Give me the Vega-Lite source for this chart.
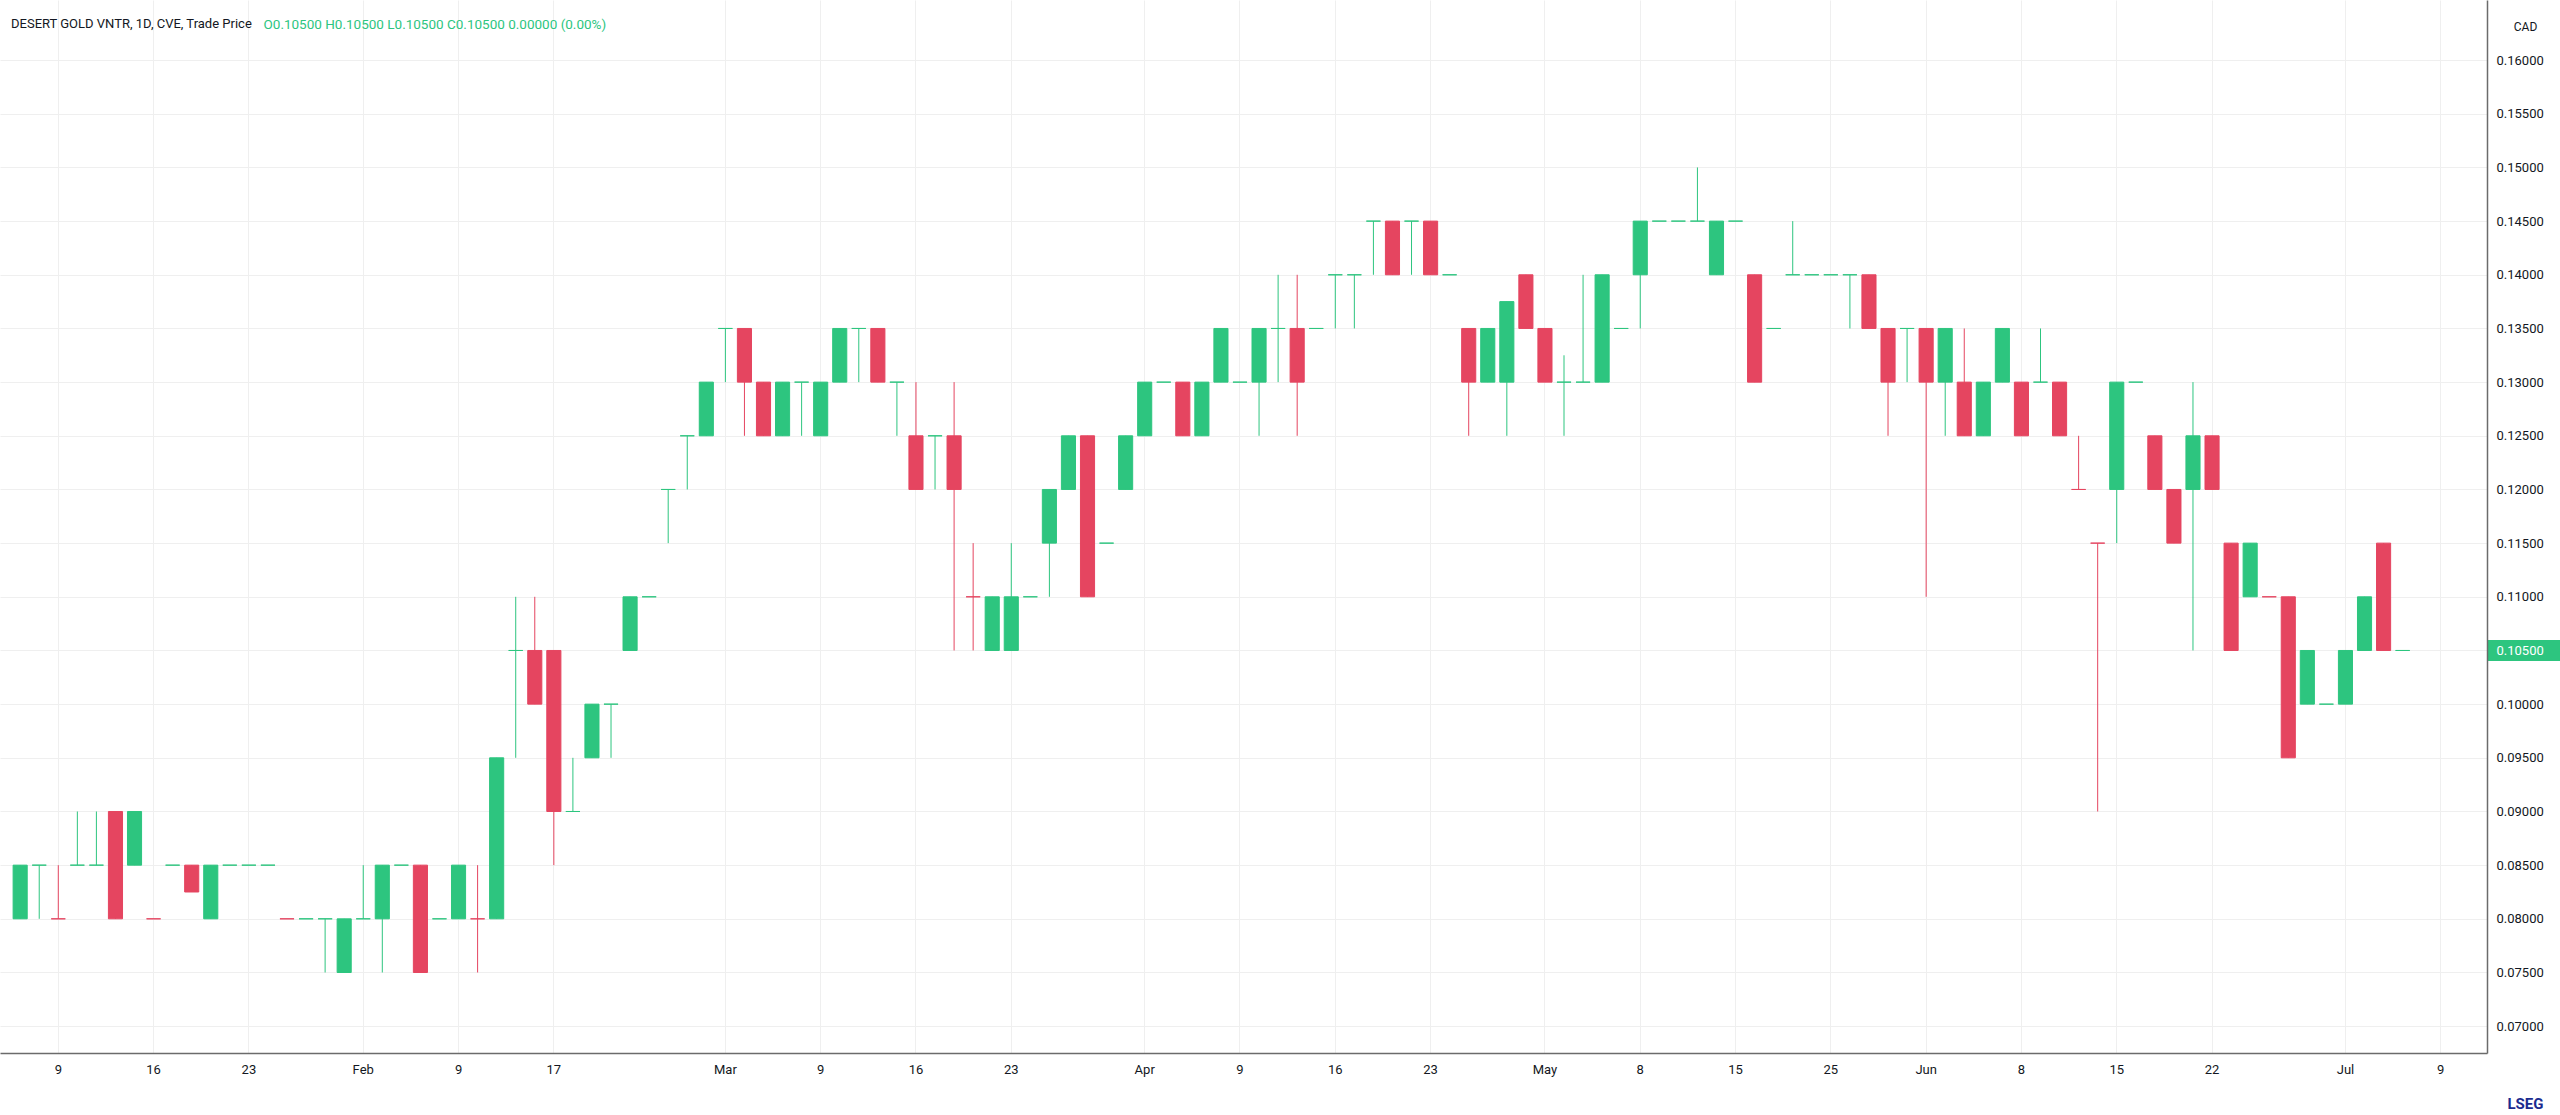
{
  "$schema": "https://vega.github.io/schema/vega-lite/v6.json",
  "description": "Desert Gold Ventures daily candles, Trade Price, CAD",
  "width": 2487,
  "height": 1053,
  "autosize": {"type": "none"},
  "padding": {"left": 0, "top": 0, "right": 73, "bottom": 62},
  "background": "#ffffff",
  "title": {
    "text": "DESERT GOLD VNTR, 1D, CVE, Trade Price",
    "anchor": "start",
    "orient": "top",
    "offset": -31,
    "dx": 11,
    "font": "Roboto",
    "fontSize": 13,
    "fontWeight": "normal",
    "color": "#131722"
  },
  "data": {
    "values": [
      {"d": "2026-01-07", "o": 0.08, "h": 0.085, "l": 0.08, "c": 0.085},
      {"d": "2026-01-08", "o": 0.085, "h": 0.085, "l": 0.08, "c": 0.085},
      {"d": "2026-01-09", "o": 0.08, "h": 0.085, "l": 0.08, "c": 0.08, "dir": "down"},
      {"d": "2026-01-12", "o": 0.085, "h": 0.09, "l": 0.085, "c": 0.085},
      {"d": "2026-01-13", "o": 0.085, "h": 0.09, "l": 0.085, "c": 0.085},
      {"d": "2026-01-14", "o": 0.09, "h": 0.09, "l": 0.08, "c": 0.08},
      {"d": "2026-01-15", "o": 0.085, "h": 0.09, "l": 0.085, "c": 0.09},
      {"d": "2026-01-16", "o": 0.08, "h": 0.08, "l": 0.08, "c": 0.08, "dir": "down"},
      {"d": "2026-01-19", "o": 0.085, "h": 0.085, "l": 0.085, "c": 0.085},
      {"d": "2026-01-20", "o": 0.085, "h": 0.085, "l": 0.0825, "c": 0.0825},
      {"d": "2026-01-21", "o": 0.08, "h": 0.085, "l": 0.08, "c": 0.085},
      {"d": "2026-01-22", "o": 0.085, "h": 0.085, "l": 0.085, "c": 0.085},
      {"d": "2026-01-23", "o": 0.085, "h": 0.085, "l": 0.085, "c": 0.085},
      {"d": "2026-01-26", "o": 0.085, "h": 0.085, "l": 0.085, "c": 0.085},
      {"d": "2026-01-27", "o": 0.08, "h": 0.08, "l": 0.08, "c": 0.08, "dir": "down"},
      {"d": "2026-01-28", "o": 0.08, "h": 0.08, "l": 0.08, "c": 0.08},
      {"d": "2026-01-29", "o": 0.08, "h": 0.08, "l": 0.075, "c": 0.08},
      {"d": "2026-01-30", "o": 0.075, "h": 0.08, "l": 0.075, "c": 0.08},
      {"d": "2026-02-02", "o": 0.08, "h": 0.085, "l": 0.08, "c": 0.08},
      {"d": "2026-02-03", "o": 0.08, "h": 0.085, "l": 0.075, "c": 0.085},
      {"d": "2026-02-04", "o": 0.085, "h": 0.085, "l": 0.085, "c": 0.085},
      {"d": "2026-02-05", "o": 0.085, "h": 0.085, "l": 0.075, "c": 0.075},
      {"d": "2026-02-06", "o": 0.08, "h": 0.08, "l": 0.08, "c": 0.08},
      {"d": "2026-02-09", "o": 0.08, "h": 0.085, "l": 0.08, "c": 0.085},
      {"d": "2026-02-10", "o": 0.08, "h": 0.085, "l": 0.075, "c": 0.08, "dir": "down"},
      {"d": "2026-02-11", "o": 0.08, "h": 0.095, "l": 0.08, "c": 0.095},
      {"d": "2026-02-12", "o": 0.105, "h": 0.11, "l": 0.095, "c": 0.105},
      {"d": "2026-02-13", "o": 0.105, "h": 0.11, "l": 0.1, "c": 0.1},
      {"d": "2026-02-17", "o": 0.105, "h": 0.105, "l": 0.085, "c": 0.09},
      {"d": "2026-02-18", "o": 0.09, "h": 0.095, "l": 0.09, "c": 0.09},
      {"d": "2026-02-19", "o": 0.095, "h": 0.1, "l": 0.095, "c": 0.1},
      {"d": "2026-02-20", "o": 0.1, "h": 0.1, "l": 0.095, "c": 0.1},
      {"d": "2026-02-23", "o": 0.105, "h": 0.11, "l": 0.105, "c": 0.11},
      {"d": "2026-02-24", "o": 0.11, "h": 0.11, "l": 0.11, "c": 0.11},
      {"d": "2026-02-25", "o": 0.12, "h": 0.12, "l": 0.115, "c": 0.12},
      {"d": "2026-02-26", "o": 0.125, "h": 0.125, "l": 0.12, "c": 0.125},
      {"d": "2026-02-27", "o": 0.125, "h": 0.13, "l": 0.125, "c": 0.13},
      {"d": "2026-03-02", "o": 0.135, "h": 0.135, "l": 0.13, "c": 0.135},
      {"d": "2026-03-03", "o": 0.135, "h": 0.135, "l": 0.125, "c": 0.13},
      {"d": "2026-03-04", "o": 0.13, "h": 0.13, "l": 0.125, "c": 0.125},
      {"d": "2026-03-05", "o": 0.125, "h": 0.13, "l": 0.125, "c": 0.13},
      {"d": "2026-03-06", "o": 0.13, "h": 0.13, "l": 0.125, "c": 0.13},
      {"d": "2026-03-09", "o": 0.125, "h": 0.13, "l": 0.125, "c": 0.13},
      {"d": "2026-03-10", "o": 0.13, "h": 0.135, "l": 0.13, "c": 0.135},
      {"d": "2026-03-11", "o": 0.135, "h": 0.135, "l": 0.13, "c": 0.135},
      {"d": "2026-03-12", "o": 0.135, "h": 0.135, "l": 0.13, "c": 0.13},
      {"d": "2026-03-13", "o": 0.13, "h": 0.13, "l": 0.125, "c": 0.13},
      {"d": "2026-03-16", "o": 0.125, "h": 0.13, "l": 0.12, "c": 0.12},
      {"d": "2026-03-17", "o": 0.125, "h": 0.125, "l": 0.12, "c": 0.125},
      {"d": "2026-03-18", "o": 0.125, "h": 0.13, "l": 0.105, "c": 0.12},
      {"d": "2026-03-19", "o": 0.11, "h": 0.115, "l": 0.105, "c": 0.11, "dir": "down"},
      {"d": "2026-03-20", "o": 0.105, "h": 0.11, "l": 0.105, "c": 0.11},
      {"d": "2026-03-23", "o": 0.105, "h": 0.115, "l": 0.105, "c": 0.11},
      {"d": "2026-03-24", "o": 0.11, "h": 0.11, "l": 0.11, "c": 0.11},
      {"d": "2026-03-25", "o": 0.115, "h": 0.12, "l": 0.11, "c": 0.12},
      {"d": "2026-03-26", "o": 0.12, "h": 0.125, "l": 0.12, "c": 0.125},
      {"d": "2026-03-27", "o": 0.125, "h": 0.125, "l": 0.11, "c": 0.11},
      {"d": "2026-03-30", "o": 0.115, "h": 0.115, "l": 0.115, "c": 0.115},
      {"d": "2026-03-31", "o": 0.12, "h": 0.125, "l": 0.12, "c": 0.125},
      {"d": "2026-04-01", "o": 0.125, "h": 0.13, "l": 0.125, "c": 0.13},
      {"d": "2026-04-02", "o": 0.13, "h": 0.13, "l": 0.13, "c": 0.13},
      {"d": "2026-04-06", "o": 0.13, "h": 0.13, "l": 0.125, "c": 0.125},
      {"d": "2026-04-07", "o": 0.125, "h": 0.13, "l": 0.125, "c": 0.13},
      {"d": "2026-04-08", "o": 0.13, "h": 0.135, "l": 0.13, "c": 0.135},
      {"d": "2026-04-09", "o": 0.13, "h": 0.13, "l": 0.13, "c": 0.13},
      {"d": "2026-04-10", "o": 0.13, "h": 0.135, "l": 0.125, "c": 0.135},
      {"d": "2026-04-13", "o": 0.135, "h": 0.14, "l": 0.13, "c": 0.135},
      {"d": "2026-04-14", "o": 0.135, "h": 0.14, "l": 0.125, "c": 0.13},
      {"d": "2026-04-15", "o": 0.135, "h": 0.135, "l": 0.135, "c": 0.135},
      {"d": "2026-04-16", "o": 0.14, "h": 0.14, "l": 0.135, "c": 0.14},
      {"d": "2026-04-17", "o": 0.14, "h": 0.14, "l": 0.135, "c": 0.14},
      {"d": "2026-04-20", "o": 0.145, "h": 0.145, "l": 0.14, "c": 0.145},
      {"d": "2026-04-21", "o": 0.145, "h": 0.145, "l": 0.14, "c": 0.14},
      {"d": "2026-04-22", "o": 0.145, "h": 0.145, "l": 0.14, "c": 0.145},
      {"d": "2026-04-23", "o": 0.145, "h": 0.145, "l": 0.14, "c": 0.14},
      {"d": "2026-04-24", "o": 0.14, "h": 0.14, "l": 0.14, "c": 0.14},
      {"d": "2026-04-27", "o": 0.135, "h": 0.135, "l": 0.125, "c": 0.13},
      {"d": "2026-04-28", "o": 0.13, "h": 0.135, "l": 0.13, "c": 0.135},
      {"d": "2026-04-29", "o": 0.13, "h": 0.1375, "l": 0.125, "c": 0.1375},
      {"d": "2026-04-30", "o": 0.14, "h": 0.14, "l": 0.135, "c": 0.135},
      {"d": "2026-05-01", "o": 0.135, "h": 0.135, "l": 0.13, "c": 0.13},
      {"d": "2026-05-04", "o": 0.13, "h": 0.1325, "l": 0.125, "c": 0.13},
      {"d": "2026-05-05", "o": 0.13, "h": 0.14, "l": 0.13, "c": 0.13},
      {"d": "2026-05-06", "o": 0.13, "h": 0.14, "l": 0.13, "c": 0.14},
      {"d": "2026-05-07", "o": 0.135, "h": 0.135, "l": 0.135, "c": 0.135},
      {"d": "2026-05-08", "o": 0.14, "h": 0.145, "l": 0.135, "c": 0.145},
      {"d": "2026-05-11", "o": 0.145, "h": 0.145, "l": 0.145, "c": 0.145},
      {"d": "2026-05-12", "o": 0.145, "h": 0.145, "l": 0.145, "c": 0.145},
      {"d": "2026-05-13", "o": 0.145, "h": 0.15, "l": 0.145, "c": 0.145},
      {"d": "2026-05-14", "o": 0.14, "h": 0.145, "l": 0.14, "c": 0.145},
      {"d": "2026-05-15", "o": 0.145, "h": 0.145, "l": 0.145, "c": 0.145},
      {"d": "2026-05-19", "o": 0.14, "h": 0.14, "l": 0.13, "c": 0.13},
      {"d": "2026-05-20", "o": 0.135, "h": 0.135, "l": 0.135, "c": 0.135},
      {"d": "2026-05-21", "o": 0.14, "h": 0.145, "l": 0.14, "c": 0.14},
      {"d": "2026-05-22", "o": 0.14, "h": 0.14, "l": 0.14, "c": 0.14},
      {"d": "2026-05-25", "o": 0.14, "h": 0.14, "l": 0.14, "c": 0.14},
      {"d": "2026-05-26", "o": 0.14, "h": 0.14, "l": 0.135, "c": 0.14},
      {"d": "2026-05-27", "o": 0.14, "h": 0.14, "l": 0.135, "c": 0.135},
      {"d": "2026-05-28", "o": 0.135, "h": 0.135, "l": 0.125, "c": 0.13},
      {"d": "2026-05-29", "o": 0.135, "h": 0.135, "l": 0.13, "c": 0.135},
      {"d": "2026-06-01", "o": 0.135, "h": 0.135, "l": 0.11, "c": 0.13},
      {"d": "2026-06-02", "o": 0.13, "h": 0.135, "l": 0.125, "c": 0.135},
      {"d": "2026-06-03", "o": 0.13, "h": 0.135, "l": 0.125, "c": 0.125},
      {"d": "2026-06-04", "o": 0.125, "h": 0.13, "l": 0.125, "c": 0.13},
      {"d": "2026-06-05", "o": 0.13, "h": 0.135, "l": 0.13, "c": 0.135},
      {"d": "2026-06-08", "o": 0.13, "h": 0.13, "l": 0.125, "c": 0.125},
      {"d": "2026-06-09", "o": 0.13, "h": 0.135, "l": 0.13, "c": 0.13},
      {"d": "2026-06-10", "o": 0.13, "h": 0.13, "l": 0.125, "c": 0.125},
      {"d": "2026-06-11", "o": 0.12, "h": 0.125, "l": 0.12, "c": 0.12, "dir": "down"},
      {"d": "2026-06-12", "o": 0.115, "h": 0.115, "l": 0.09, "c": 0.115, "dir": "down"},
      {"d": "2026-06-15", "o": 0.12, "h": 0.13, "l": 0.115, "c": 0.13},
      {"d": "2026-06-16", "o": 0.13, "h": 0.13, "l": 0.13, "c": 0.13},
      {"d": "2026-06-17", "o": 0.125, "h": 0.125, "l": 0.12, "c": 0.12},
      {"d": "2026-06-18", "o": 0.12, "h": 0.12, "l": 0.115, "c": 0.115},
      {"d": "2026-06-19", "o": 0.12, "h": 0.13, "l": 0.105, "c": 0.125},
      {"d": "2026-06-22", "o": 0.125, "h": 0.125, "l": 0.12, "c": 0.12},
      {"d": "2026-06-23", "o": 0.115, "h": 0.115, "l": 0.105, "c": 0.105},
      {"d": "2026-06-24", "o": 0.11, "h": 0.115, "l": 0.11, "c": 0.115},
      {"d": "2026-06-25", "o": 0.11, "h": 0.11, "l": 0.11, "c": 0.11, "dir": "down"},
      {"d": "2026-06-26", "o": 0.11, "h": 0.11, "l": 0.095, "c": 0.095},
      {"d": "2026-06-29", "o": 0.1, "h": 0.105, "l": 0.1, "c": 0.105},
      {"d": "2026-06-30", "o": 0.1, "h": 0.1, "l": 0.1, "c": 0.1},
      {"d": "2026-07-02", "o": 0.1, "h": 0.105, "l": 0.1, "c": 0.105},
      {"d": "2026-07-03", "o": 0.105, "h": 0.11, "l": 0.105, "c": 0.11},
      {"d": "2026-07-06", "o": 0.115, "h": 0.115, "l": 0.105, "c": 0.105},
      {"d": "2026-07-07", "o": 0.105, "h": 0.105, "l": 0.105, "c": 0.105}
    ]
  },
  "transform": [
    {"calculate": "datum.c > datum.o ? 'up' : datum.c < datum.o ? 'down' : (datum.dir || 'up')", "as": "side"}
  ],
  "encoding": {
    "x": {
      "field": "d",
      "type": "ordinal",
      "scale": {
        "type": "band",
        "round": false,
        "paddingInner": 0,
        "paddingOuter": 0.742,
        "align": 0.376,
        "domain": [
          "2026-01-07","2026-01-08","2026-01-09","2026-01-12","2026-01-13","2026-01-14","2026-01-15","2026-01-16",
          "2026-01-19","2026-01-20","2026-01-21","2026-01-22","2026-01-23","2026-01-26","2026-01-27","2026-01-28",
          "2026-01-29","2026-01-30","2026-02-02","2026-02-03","2026-02-04","2026-02-05","2026-02-06","2026-02-09",
          "2026-02-10","2026-02-11","2026-02-12","2026-02-13","2026-02-17","2026-02-18","2026-02-19","2026-02-20",
          "2026-02-23","2026-02-24","2026-02-25","2026-02-26","2026-02-27","2026-03-02","2026-03-03","2026-03-04",
          "2026-03-05","2026-03-06","2026-03-09","2026-03-10","2026-03-11","2026-03-12","2026-03-13","2026-03-16",
          "2026-03-17","2026-03-18","2026-03-19","2026-03-20","2026-03-23","2026-03-24","2026-03-25","2026-03-26",
          "2026-03-27","2026-03-30","2026-03-31","2026-04-01","2026-04-02","2026-04-06","2026-04-07","2026-04-08",
          "2026-04-09","2026-04-10","2026-04-13","2026-04-14","2026-04-15","2026-04-16","2026-04-17","2026-04-20",
          "2026-04-21","2026-04-22","2026-04-23","2026-04-24","2026-04-27","2026-04-28","2026-04-29","2026-04-30",
          "2026-05-01","2026-05-04","2026-05-05","2026-05-06","2026-05-07","2026-05-08","2026-05-11","2026-05-12",
          "2026-05-13","2026-05-14","2026-05-15","2026-05-19","2026-05-20","2026-05-21","2026-05-22","2026-05-25",
          "2026-05-26","2026-05-27","2026-05-28","2026-05-29","2026-06-01","2026-06-02","2026-06-03","2026-06-04",
          "2026-06-05","2026-06-08","2026-06-09","2026-06-10","2026-06-11","2026-06-12","2026-06-15","2026-06-16",
          "2026-06-17","2026-06-18","2026-06-19","2026-06-22","2026-06-23","2026-06-24","2026-06-25","2026-06-26",
          "2026-06-29","2026-06-30","2026-07-02","2026-07-03","2026-07-06","2026-07-07","2026-07-08","2026-07-09",
          "2026-07-10"
        ]
      },
      "axis": {
        "title": "LSEG",
        "titleFont": "Roboto",
        "titleFontSize": 15,
        "titleFontWeight": "bold",
        "titleColor": "#1a2b8f",
        "titleX": 2525,
        "titleY": 50,
        "titleAlign": "center",
        "titleBaseline": "middle",
        "values": [
          "2026-01-09","2026-01-16","2026-01-23","2026-02-02","2026-02-09","2026-02-17","2026-03-02","2026-03-09",
          "2026-03-16","2026-03-23","2026-04-01","2026-04-09","2026-04-16","2026-04-23","2026-05-01","2026-05-08",
          "2026-05-15","2026-05-25","2026-06-01","2026-06-08","2026-06-15","2026-06-22","2026-07-02","2026-07-09"
        ],
        "labelExpr": "indexof(['2026-02-02','2026-03-02','2026-04-01','2026-05-01','2026-06-01','2026-07-02'], datum.value) >= 0 ? ['Jan','Feb','Mar','Apr','May','Jun','Jul'][toNumber(slice(datum.value, 5, 7)) - 1] : '' + toNumber(slice(datum.value, 8))",
        "labelAngle": 0,
        "labelOverlap": false,
        "labelBound": false,
        "labelFlush": false,
        "labelPadding": 10,
        "bandPosition": 0.5,
        "ticks": false,
        "grid": true,
        "gridColor": "#efefef",
        "gridWidth": 1,
        "domainColor": "#6b6b6b",
        "domainWidth": 1.5
      }
    },
    "y": {
      "scale": {"domain": [0.0675, 0.1656], "nice": false, "zero": false},
      "axis": {
        "orient": "right",
        "title": "CAD",
        "titleAngle": 0,
        "titleFont": "Roboto",
        "titleFontSize": 12,
        "titleFontWeight": "normal",
        "titleColor": "#131722",
        "titleX": 38,
        "titleY": 26,
        "titleAlign": "center",
        "titleBaseline": "middle",
        "values": [0.07, 0.075, 0.08, 0.085, 0.09, 0.095, 0.1, 0.105, 0.11, 0.115, 0.12, 0.125, 0.13, 0.135, 0.14, 0.145, 0.15, 0.155, 0.16],
        "format": ".5f",
        "grid": true,
        "gridColor": "#efefef",
        "gridWidth": 1,
        "ticks": true,
        "tickSize": 73,
        "tickWidth": 21,
        "tickColor": {"condition": {"test": "abs(datum.value - 0.105) < 0.000001", "value": "#2dc57f"}, "value": "transparent"},
        "labelPadding": -64,
        "labelColor": {"condition": {"test": "abs(datum.value - 0.105) < 0.000001", "value": "#ffffff"}, "value": "#131722"},
        "domainColor": "#6b6b6b",
        "domainWidth": 1.5
      }
    }
  },
  "layer": [
    {
      "mark": {"type": "rule", "strokeWidth": 1},
      "encoding": {
        "y": {"field": "l", "type": "quantitative"},
        "y2": {"field": "h"},
        "color": {
          "field": "side",
          "type": "nominal",
          "scale": {"domain": ["up", "down"], "range": ["#2dc57f", "#e54560"]},
          "legend": null
        }
      }
    },
    {
      "mark": {"type": "bar", "width": {"band": 0.74}, "strokeWidth": 1},
      "encoding": {
        "x": {
          "field": "d",
          "type": "ordinal",
          "axis": {
            "orient": "top",
            "labels": false,
            "ticks": false,
            "domain": false,
            "grid": false,
            "title": "O0.10500 H0.10500 L0.10500 C0.10500 0.00000 (0.00%)",
            "titleFont": "Roboto",
            "titleFontSize": 13.5,
            "titleFontWeight": "normal",
            "titleColor": "#2dc57f",
            "titleX": 263,
            "titleY": 24,
            "titleAlign": "left",
            "titleBaseline": "middle",
            "titleAngle": 0
          }
        },
        "y": {"field": "o", "type": "quantitative"},
        "y2": {"field": "c"},
        "color": {
          "field": "side",
          "type": "nominal",
          "scale": {"domain": ["up", "down"], "range": ["#2dc57f", "#e54560"]},
          "legend": null
        },
        "stroke": {
          "field": "side",
          "type": "nominal",
          "scale": {"domain": ["up", "down"], "range": ["#2dc57f", "#e54560"]},
          "legend": null
        }
      }
    }
  ],
  "resolve": {"axis": {"x": "independent"}},
  "config": {
    "view": {"stroke": null},
    "font": "Roboto",
    "axis": {
      "labelFont": "Roboto",
      "labelFontSize": 13,
      "labelColor": "#131722"
    }
  }
}
